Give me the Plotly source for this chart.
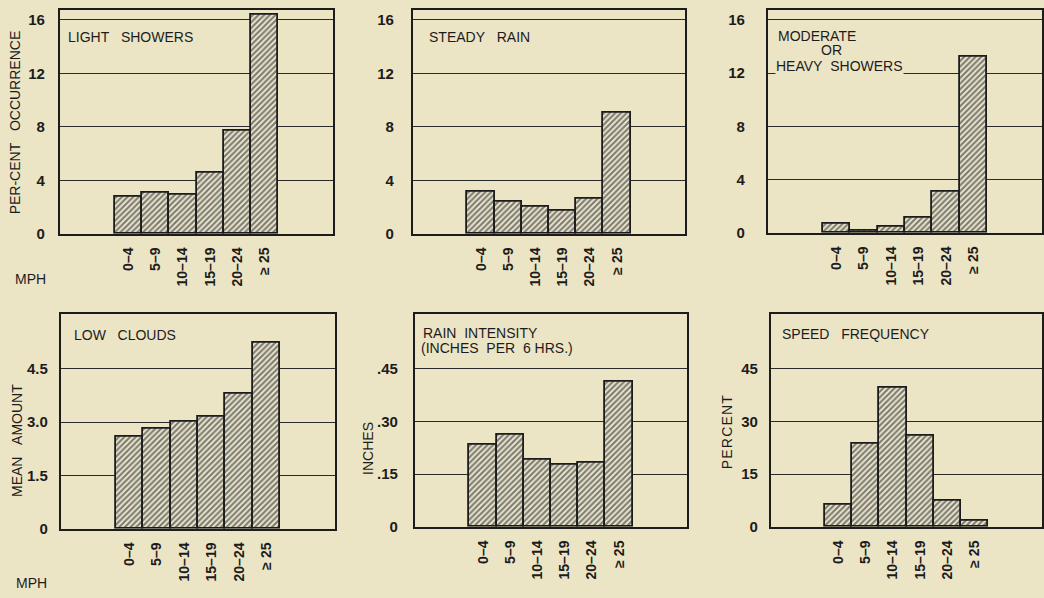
import plotly.graph_objects as go

W, H = 1044, 598
BG = "#ece5c5"
INK = "#1c1c1c"

categories = ["0–4", "5–9", "10–14", "15–19", "20–24", "≥ 25"]

light_showers = [2.73, 3.1, 2.93, 4.57, 7.7, 16.4]
steady_rain = [3.15, 2.4, 2.05, 1.75, 2.65, 9.05]
moderate_heavy_showers = [0.7, 0.12, 0.45, 1.1, 3.1, 13.2]
low_clouds = [2.6, 2.81, 3.0, 3.16, 3.81, 5.24]
rain_intensity = [0.234, 0.262, 0.19, 0.176, 0.183, 0.414]
speed_frequency = [6.3, 23.6, 39.7, 26.0, 7.5, 1.85]

pct_ticks = [0, 4, 8, 12, 16]
pct_ticktext = ["0", "4", "8", "12", "16"]
cloud_ticks = [0, 1.5, 3.0, 4.5]
cloud_ticktext = ["0", "1.5", "3.0", "4.5"]
inch_ticks = [0, 0.15, 0.30, 0.45]
inch_ticktext = ["0", ".15", ".30", ".45"]
freq_ticks = [0, 15, 30, 45]
freq_ticktext = ["0", "15", "30", "45"]


def px(x):
    return x / W


def py(y):
    return 1 - y / H


# panel boxes in pixels: (left, right, top, bottom)
panels = [
    dict(data=light_showers, box=(60, 333, 10, 237), yr=16.75, tv=pct_ticks, tt=pct_ticktext, sd=10),
    dict(data=steady_rain, box=(413, 685, 10, 237), yr=16.75, tv=pct_ticks, tt=pct_ticktext, sd=14),
    dict(data=moderate_heavy_showers, box=(768, 1042, 10, 236), yr=16.75, tv=pct_ticks, tt=pct_ticktext, sd=18),
    dict(data=low_clouds, box=(61, 335, 318, 536), yr=6.05, tv=cloud_ticks, tt=cloud_ticktext, sd=8),
    dict(data=rain_intensity, box=(415, 687, 318, 534), yr=0.606, tv=inch_ticks, tt=inch_ticktext, sd=12),
    dict(data=speed_frequency, box=(771, 1042, 318, 534), yr=60.6, tv=freq_ticks, tt=freq_ticktext, sd=8),
]

fig = go.Figure()
layout = {}
for i, p in enumerate(panels, start=1):
    sfx = "" if i == 1 else str(i)
    fig.add_trace(go.Bar(
        x=categories, y=p["data"], xaxis="x" + sfx, yaxis="y" + sfx,
        width=1.0,
        marker=dict(
            color=BG,
            line=dict(color=INK, width=1.8),
            pattern=dict(shape="/", fgcolor="#0f0f0f", bgcolor="#f3eed6", size=4, solidity=0.56),
        ),
        showlegend=False,
        hoverinfo="skip",
    ))
    l, r, t, b = p["box"]
    layout["xaxis" + sfx] = dict(
        domain=[px(l), px(r)], anchor="y" + sfx, type="category",
        range=[-2.5, 7.5], showgrid=False, showline=True, linecolor=INK, linewidth=2.2,
        mirror=True, ticks="", tickangle=-90, ticklabelstandoff=6,
        tickfont=dict(family="Liberation Sans", size=14, color=INK, weight="bold"),
        fixedrange=True,
    )
    layout["yaxis" + sfx] = dict(
        domain=[py(b), py(t)], anchor="x" + sfx, range=[0, p["yr"]],
        tickvals=p["tv"], ticktext=p["tt"], showgrid=True, gridcolor="#2a2a2a", gridwidth=1,
        showline=True, linecolor=INK, linewidth=2.2, mirror=True, ticks="",
        ticklabelstandoff=p["sd"], zeroline=False,
        tickfont=dict(family="Liberation Sans", size=15, color=INK, weight="bold"),
        fixedrange=True,
    )

fig.update_layout(
    width=W, height=H, margin=dict(l=0, r=0, t=0, b=0),
    paper_bgcolor=BG, plot_bgcolor=BG, bargap=0,
    **layout,
)

TF = dict(family="Liberation Sans", size=14, color=INK)


def note(text, x, y, xanchor="left", angle=0, size=14, bg=None, align="left"):
    fig.add_annotation(
        text=text, x=px(x), y=py(y), xref="paper", yref="paper",
        xanchor=xanchor, yanchor="middle", showarrow=False, textangle=angle,
        font=dict(TF, size=size), bgcolor=bg, align=align, borderpad=0,
    )


sp = "\u00a0\u00a0\u00a0"
note("LIGHT" + sp + "SHOWERS", 67, 37)
note("STEADY" + sp + "RAIN", 428, 37)
note("MODERATE", 777, 36)
note("OR", 820, 51)
note("HEAVY" + "\u00a0\u00a0" + "SHOWERS", 775, 67, bg=BG)
note("LOW" + sp + "CLOUDS", 73, 340)
note("RAIN\u00a0\u00a0INTENSITY", 422, 338)
note("(INCHES\u00a0\u00a0PER\u00a0\u00a06\u00a0HRS.)", 420, 353)
note("SPEED" + sp + "FREQUENCY", 781, 339)

note("PER-CENT" + sp + "OCCURRENCE", 15, 124, xanchor="center", angle=-90)
note("MEAN" + sp + "AMOUNT", 17, 447, xanchor="center", angle=-90)
note("INCHES", 368, 455, xanchor="center", angle=-90)
note("P\u200aE\u200aR\u200aC\u200aE\u200aN\u200aT", 727, 438, xanchor="center", angle=-90)
note("MPH", 14, 283)
note("MPH", 15, 591)

fig.write_html(
    "out.html",
    config={"displayModeBar": False},
    post_script="document.body.style.margin='0';document.body.style.overflow='hidden';",
)
